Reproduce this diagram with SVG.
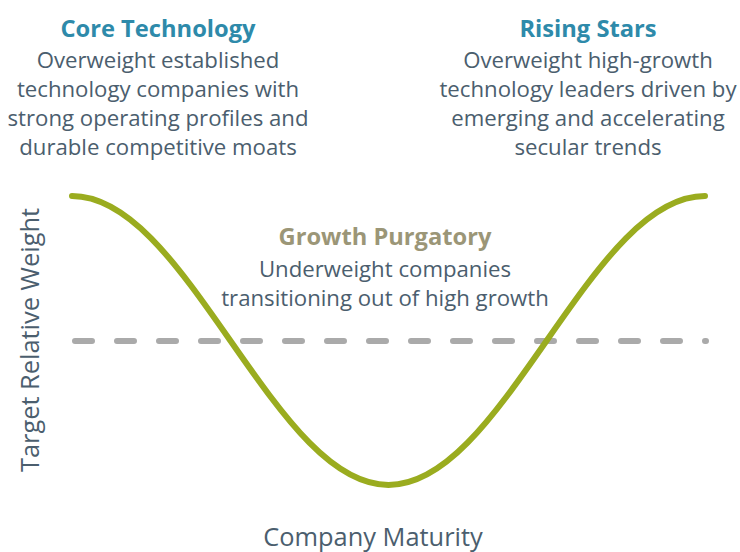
<svg xmlns="http://www.w3.org/2000/svg" width="740" height="552" viewBox="0 0 740 552">
<style>
.t{font-family:"Open Sans","Noto Sans","Liberation Sans",sans-serif;text-anchor:middle}
.title{font-size:23.7px;font-weight:700;fill:#2e8aaa}
.pt{fill:#9b9677}
.body{font-size:22.2px;fill:#4b5e6e}
.axis{font-size:25.4px;fill:#4b5e6e}
</style>
<rect width="740" height="552" fill="#ffffff"/>
<g id="connectors">
<line id="baseline" x1="75" y1="341" x2="706" y2="341" stroke="#aaaaaa" stroke-width="6" stroke-linecap="round" stroke-dasharray="17 25"/>
<path id="curve" d="M72,196 C98.375,196 124.75,211.57 151.125,238.32 C177.5,265.07 203.875,302.67 230.25,340.5 C256.625,378.33 283,415.93 309.375,442.68 C335.75,469.43 362.125,485 388.5,485 C414.875,485 441.25,469.43 467.625,442.68 C494,415.93 520.375,378.33 546.75,340.5 C573.125,302.67 599.5,265.07 625.875,238.32 C652.25,211.57 678.625,196 705,196" fill="none" stroke="#9aac1f" stroke-width="6" stroke-linecap="round"/>
</g>
<g id="core-technology" class="t">
<text class="title" x="158" y="37">Core Technology</text>
<text class="body" x="158" y="68">Overweight established</text>
<text class="body" x="158" y="97">technology companies with</text>
<text class="body" x="158" y="126">strong operating profiles and</text>
<text class="body" x="158" y="155">durable competitive moats</text>
</g>
<g id="rising-stars" class="t">
<text class="title" x="588" y="37">Rising Stars</text>
<text class="body" x="588" y="68">Overweight high-growth</text>
<text class="body" x="588" y="97">technology leaders driven by</text>
<text class="body" x="588" y="126">emerging and accelerating</text>
<text class="body" x="588" y="155">secular trends</text>
</g>
<g id="growth-purgatory" class="t">
<text class="title pt" x="385" y="245">Growth Purgatory</text>
<text class="body" x="385" y="277">Underweight companies</text>
<text class="body" x="385" y="306">transitioning out of high growth</text>
</g>
<g id="y-axis" class="t">
<text class="axis" transform="translate(39,340) rotate(-90)">Target Relative Weight</text>
</g>
<g id="x-axis" class="t">
<text class="axis" x="373" y="546">Company Maturity</text>
</g>
</svg>
